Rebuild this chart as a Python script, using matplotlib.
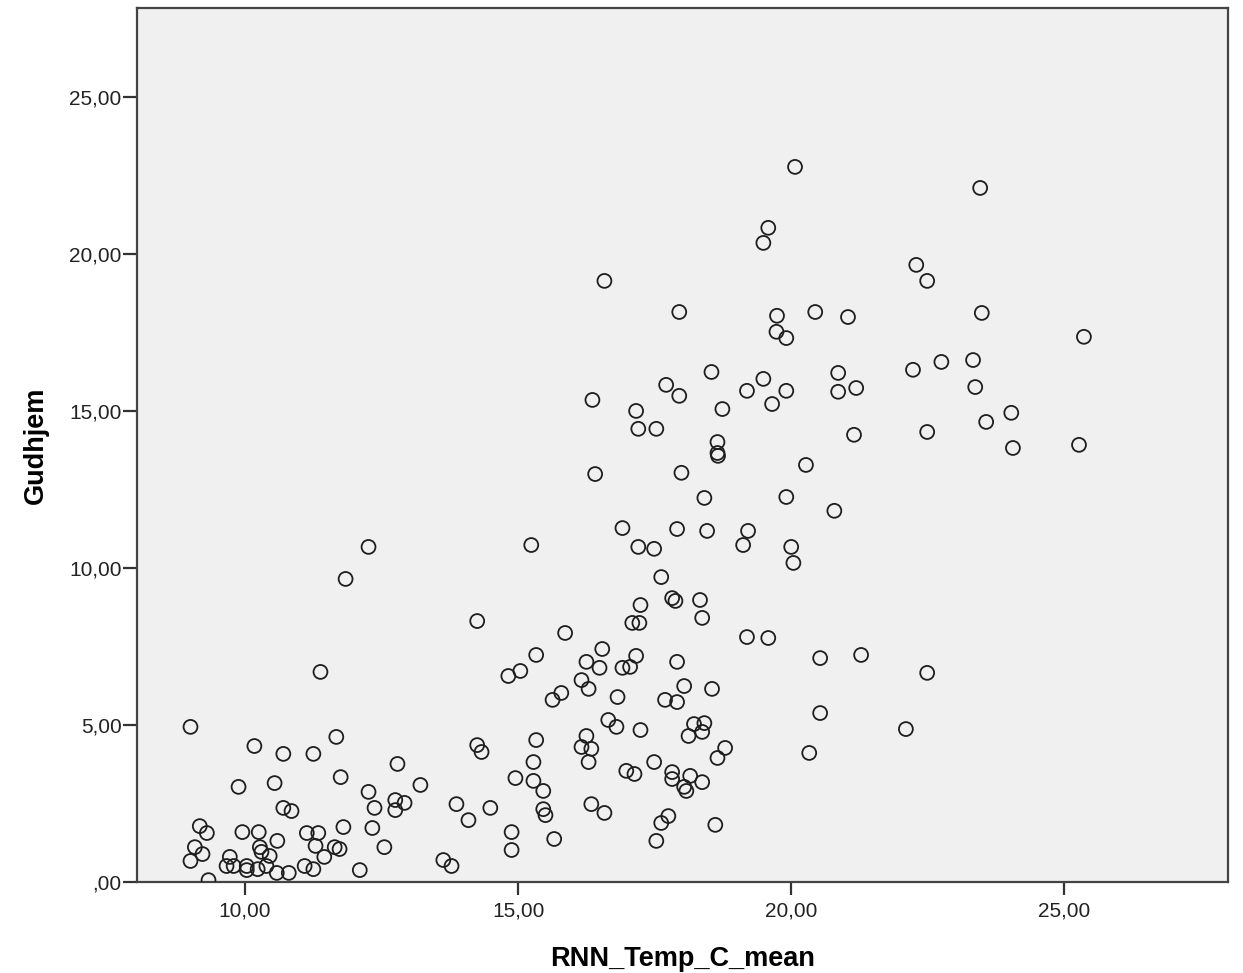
import matplotlib.pyplot as plt
from matplotlib.ticker import FuncFormatter

# RNN_Temp_C_mean vs Gudhjem
temp_mean = [
    20.07, 23.46, 19.58, 19.49, 22.29, 22.49, 16.58, 17.95, 20.44, 21.04,
    19.74, 23.49, 25.36, 19.73, 19.91, 22.75, 22.23, 23.33, 20.86, 18.54,
    19.49, 17.71, 23.37, 21.19, 19.19, 19.91, 20.86, 17.95, 16.36, 19.65,
    18.74, 24.03, 17.16, 23.57, 25.27, 24.06, 17.20, 17.53, 22.49, 21.15,
    18.65, 18.65, 18.66, 20.27, 16.41, 17.99, 18.41, 19.91, 20.79, 16.91,
    17.91, 18.46, 19.21, 19.12, 15.24, 12.26, 17.20, 17.49, 20.00, 20.04,
    11.84, 17.62, 17.82, 17.88, 18.33, 17.24, 18.37, 14.25, 17.09, 17.22,
    15.86, 19.19, 19.58, 21.28, 15.33, 20.53, 16.54, 17.16, 16.25, 17.91,
    16.91, 17.05, 16.49, 11.38, 15.04, 14.82, 22.49, 16.16, 16.29, 18.04,
    18.55, 15.79, 16.82, 15.63, 17.69, 17.91, 20.53, 16.65, 16.80, 17.24,
    18.41, 18.22, 18.37, 22.10, 18.12, 9.00, 15.33, 11.67, 10.17, 14.25,
    14.33, 16.25, 16.16, 16.34, 18.79, 10.70, 11.25, 20.33, 18.65, 16.29,
    15.28, 17.49, 12.79, 17.82, 16.98, 17.13, 11.75, 14.95, 15.28, 17.82,
    18.37, 18.15, 18.04, 18.08, 13.21, 9.88, 10.54, 12.26, 15.46, 12.75,
    12.92, 12.37, 12.75, 14.49, 13.87, 10.70, 10.85, 16.34, 15.46, 15.50,
    16.58, 14.09, 17.75, 17.62, 18.61, 9.17, 9.30, 9.95, 10.25, 11.80,
    12.33, 11.13, 11.34, 14.88, 10.59, 15.66, 17.53, 12.55, 9.08, 11.29,
    11.64, 11.73, 14.88, 9.22, 9.00, 9.72, 9.66, 9.79, 10.03, 10.03,
    10.27, 10.30, 10.45, 10.23, 10.39, 11.09, 11.25, 11.45, 10.58, 10.80,
    12.10, 9.33, 13.63, 13.78,
]
gudhjem = [
    22.77, 22.10, 20.83, 20.35, 19.65, 19.14, 19.14, 18.15, 18.15, 17.99,
    18.03, 18.12, 17.36, 17.52, 17.32, 16.56, 16.31, 16.62, 16.21, 16.24,
    16.02, 15.83, 15.76, 15.73, 15.64, 15.64, 15.61, 15.48, 15.35, 15.22,
    15.06, 14.94, 15.00, 14.65, 13.92, 13.82, 14.43, 14.43, 14.33, 14.24,
    14.01, 13.66, 13.57, 13.28, 12.99, 13.03, 12.23, 12.26, 11.82, 11.27,
    11.24, 11.18, 11.18, 10.73, 10.73, 10.67, 10.67, 10.61, 10.67, 10.16,
    9.65, 9.71, 9.04, 8.95, 8.98, 8.82, 8.41, 8.31, 8.25, 8.25,
    7.93, 7.80, 7.77, 7.23, 7.23, 7.13, 7.42, 7.20, 7.01, 7.01,
    6.82, 6.85, 6.82, 6.69, 6.72, 6.56, 6.66, 6.43, 6.15, 6.24,
    6.15, 6.02, 5.89, 5.80, 5.80, 5.73, 5.38, 5.16, 4.94, 4.84,
    5.06, 5.03, 4.78, 4.87, 4.65, 4.94, 4.52, 4.62, 4.33, 4.36,
    4.14, 4.65, 4.30, 4.24, 4.27, 4.08, 4.08, 4.11, 3.95, 3.82,
    3.82, 3.82, 3.76, 3.50, 3.54, 3.44, 3.34, 3.31, 3.22, 3.28,
    3.18, 3.38, 3.03, 2.90, 3.09, 3.03, 3.15, 2.87, 2.90, 2.61,
    2.52, 2.36, 2.29, 2.36, 2.48, 2.36, 2.26, 2.48, 2.32, 2.13,
    2.20, 1.97, 2.10, 1.88, 1.82, 1.78, 1.56, 1.59, 1.59, 1.75,
    1.72, 1.56, 1.56, 1.59, 1.31, 1.37, 1.31, 1.11, 1.11, 1.15,
    1.11, 1.05, 1.02, 0.89, 0.67, 0.80, 0.51, 0.51, 0.51, 0.38,
    1.11, 0.96, 0.83, 0.41, 0.51, 0.51, 0.41, 0.80, 0.29, 0.29,
    0.38, 0.06, 0.70, 0.51,
]

x_ticks = [10, 15, 20, 25]
y_ticks = [0, 5, 10, 15, 20, 25]


def spss_fmt(v, pos):
    # SPSS style: comma decimal, no leading zero
    s = f"{v:.2f}".replace(".", ",")
    return s[1:] if s.startswith("0,") else s


plt.rcParams["font.family"] = ["Liberation Sans", "DejaVu Sans"]

fig = plt.figure(figsize=(12.43, 9.73), dpi=100)
ax = fig.add_axes([0.1102, 0.0935, 0.8778, 0.8983])
ax.set_facecolor("#f0f0f0")

ax.scatter(temp_mean, gudhjem, s=100, facecolors="none", edgecolors="#1e1e1e",
           linewidths=1.3, zorder=3)

ax.set_xlim(8.02, 28.0)
ax.set_ylim(0, 27.83)
ax.set_xticks(x_ticks)
ax.set_yticks(y_ticks)
ax.xaxis.set_major_formatter(FuncFormatter(spss_fmt))
ax.yaxis.set_major_formatter(FuncFormatter(spss_fmt))
ax.tick_params(direction="out", width=1.6, color="#333333",
               labelsize=15, labelcolor="#222222")
ax.tick_params(axis="x", length=9.5, pad=4.5)
ax.tick_params(axis="y", length=10, pad=1)

for sp in ax.spines.values():
    sp.set_color("#444444")
    sp.set_linewidth(1.6)

ax.set_xlabel("RNN_Temp_C_mean", fontsize=19.5, fontweight="bold")
ax.set_ylabel("Gudhjem", fontsize=19.5, fontweight="bold")
ax.xaxis.set_label_coords(0.5, -0.073)
ax.yaxis.set_label_coords(-0.081, 0.5)

fig.savefig("out.png", dpi=100)
